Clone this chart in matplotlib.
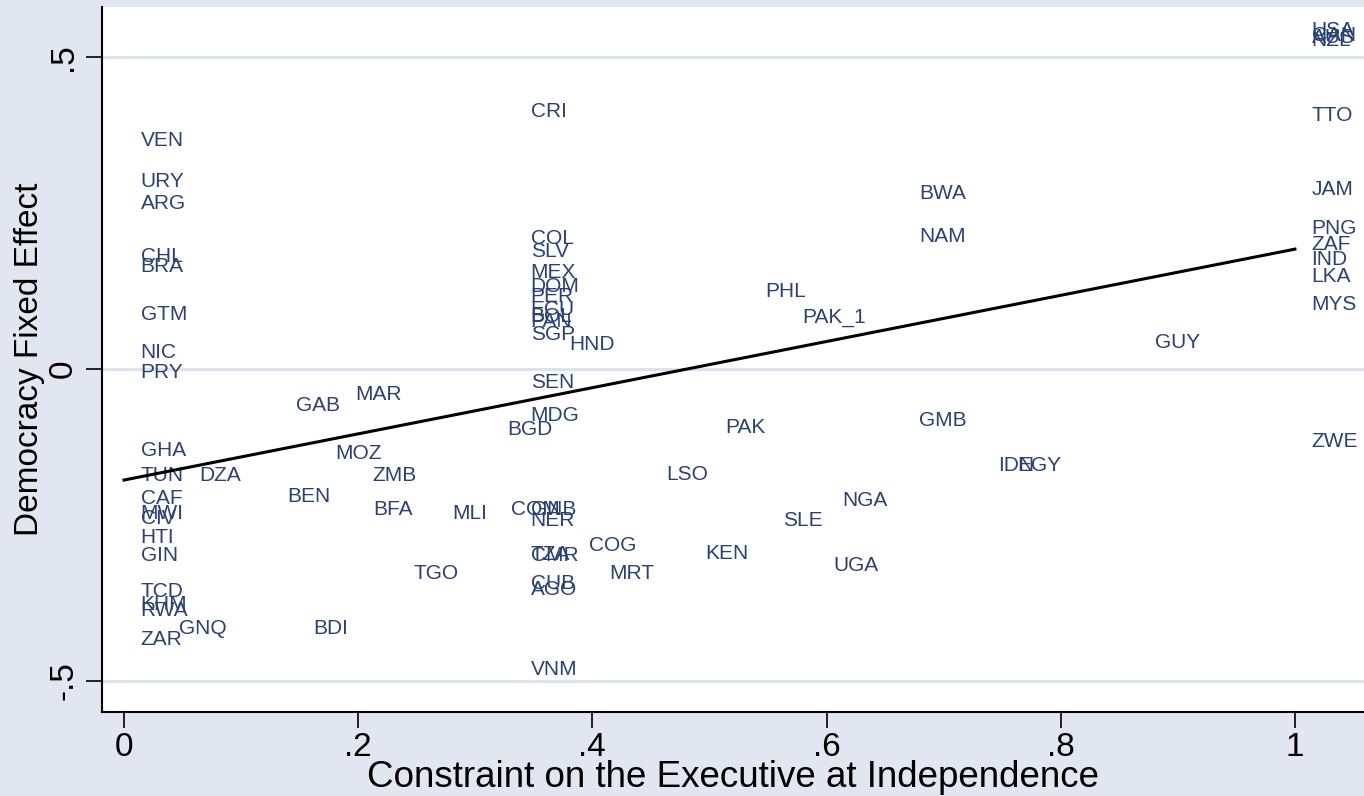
# -*- coding: utf-8 -*-
import numpy as np
import matplotlib
matplotlib.use('Agg')
import matplotlib.pyplot as plt
from matplotlib.ticker import FixedLocator

# --- data ---
codes = ['VEN','URY','ARG','CHL','BRA','GTM','NIC','PRY','GHA','TUN','CAF','MWI','CIV','HTI','GIN',
         'TCD','KHM','RWA','ZAR','GNQ','DZA','BEN','GAB','BDI','MOZ','MAR','ZMB','BFA','TGO','MLI',
         'BGD','COM','CRI','COL','SLV','MEX','DOM','PER','ECU','BOL','PAN','SGP','SEN','MDG','GNB',
         'NER','TZA','CMR','CUB','AGO','VNM','HND','COG','MRT','LSO','KEN','PAK','PHL','SLE','PAK_1',
         'NGA','UGA','BWA','NAM','GMB','IDN','EGY','GUY','USA','CAN','AUS','NZL','TTO','JAM','PNG',
         'ZAF','IND','LKA','MYS','ZWE']
xcon = [0,0,0,0,0,0,0,0,0,0,0,0,0,0,0,
        0,0,0,0,0.033,0.050,0.125,0.133,0.147,0.1665,0.183,0.198,0.199,0.233,0.266,
        0.313,0.316,0.333,0.333,0.333,0.333,0.333,0.333,0.333,0.333,0.333,0.333,0.333,0.333,0.333,
        0.333,0.333,0.333,0.333,0.333,0.333,0.366,0.383,0.400,0.449,0.4825,0.4996,0.533,0.549,0.565,
        0.5995,0.592,0.665,0.665,0.665,0.732,0.749,0.866,1,1,1,1,1,1,1,
        1,1,1,1,1]
yfe = [0.369,0.304,0.269,0.184,0.167,0.091,0.029,-0.002,-0.127,-0.167,-0.205,-0.229,-0.237,-0.267,-0.296,
       -0.353,-0.374,-0.384,-0.430,-0.412,-0.167,-0.201,-0.056,-0.412,-0.133,-0.037,-0.168,-0.222,-0.324,-0.228,
       -0.094,-0.222,0.415,0.212,0.191,0.157,0.136,0.119,0.099,0.087,0.079,0.059,-0.018,-0.072,-0.222,
       -0.240,-0.294,-0.295,-0.341,-0.351,-0.478,0.043,-0.280,-0.325,-0.166,-0.293,-0.091,0.128,-0.239,0.0865,
       -0.207,-0.311,0.284,0.216,-0.080,-0.151,-0.151,0.046,0.546,0.537,0.535,0.530,0.410,0.290,0.229,
       0.202,0.178,0.151,0.106,-0.113]

# fitted line end points
fit_x = [0, 1]
fit_y = [-0.178, 0.192]

xticks = [0, 0.2, 0.4, 0.6, 0.8, 1]
xticklabels = ['0', '.2', '.4', '.6', '.8', '1']
yticks = [-0.5, 0, 0.5]
yticklabels = ['-.5', '0', '.5']

bg = '#E1E6F0'
navy = '#2B4172'

plt.rcParams['font.family'] = ['Liberation Sans', 'DejaVu Sans']

fig = plt.figure(figsize=(13.64, 7.96), dpi=100, facecolor=bg)
ax = fig.add_axes([102/1364., 1-712/796., 1-102/1364., (712-7)/796.])
ax.set_facecolor('white')

ax.set_xlim(-0.0188, 1.059)
ax.set_ylim(-0.5497, 0.580)

# grid lines
for yv in yticks:
	ax.axhline(yv, color='#DDE3EE', linewidth=2.2, zorder=0)

# fit line
ax.plot(fit_x, fit_y, color='k', linewidth=2.2, zorder=3)

# country labels
for c, xv, yv in zip(codes, xcon, yfe):
	ax.annotate(c, (xv, yv), xytext=(12, -5.4), textcoords='offset points',
		ha='left', va='baseline', color=navy, fontsize=15, zorder=2)

# axes
for s in ['top', 'right']:
	ax.spines[s].set_visible(False)
ax.spines['left'].set_linewidth(1.5)
ax.spines['bottom'].set_linewidth(1.5)

ax.xaxis.set_major_locator(FixedLocator(xticks))
ax.set_xticklabels(xticklabels)
ax.yaxis.set_major_locator(FixedLocator(yticks))
ax.set_yticklabels(yticklabels, rotation=90, va='center')
ax.tick_params(axis='both', direction='out', length=11.5, width=1.2, labelsize=24, pad=3)
ax.tick_params(axis='y', pad=5)

ax.set_xlabel('Constraint on the Executive at Independence', fontsize=26.5, labelpad=-2)
ax.set_ylabel('Democracy Fixed Effect', fontsize=24, labelpad=2)

fig.savefig('out.png', dpi=100, facecolor=bg)
